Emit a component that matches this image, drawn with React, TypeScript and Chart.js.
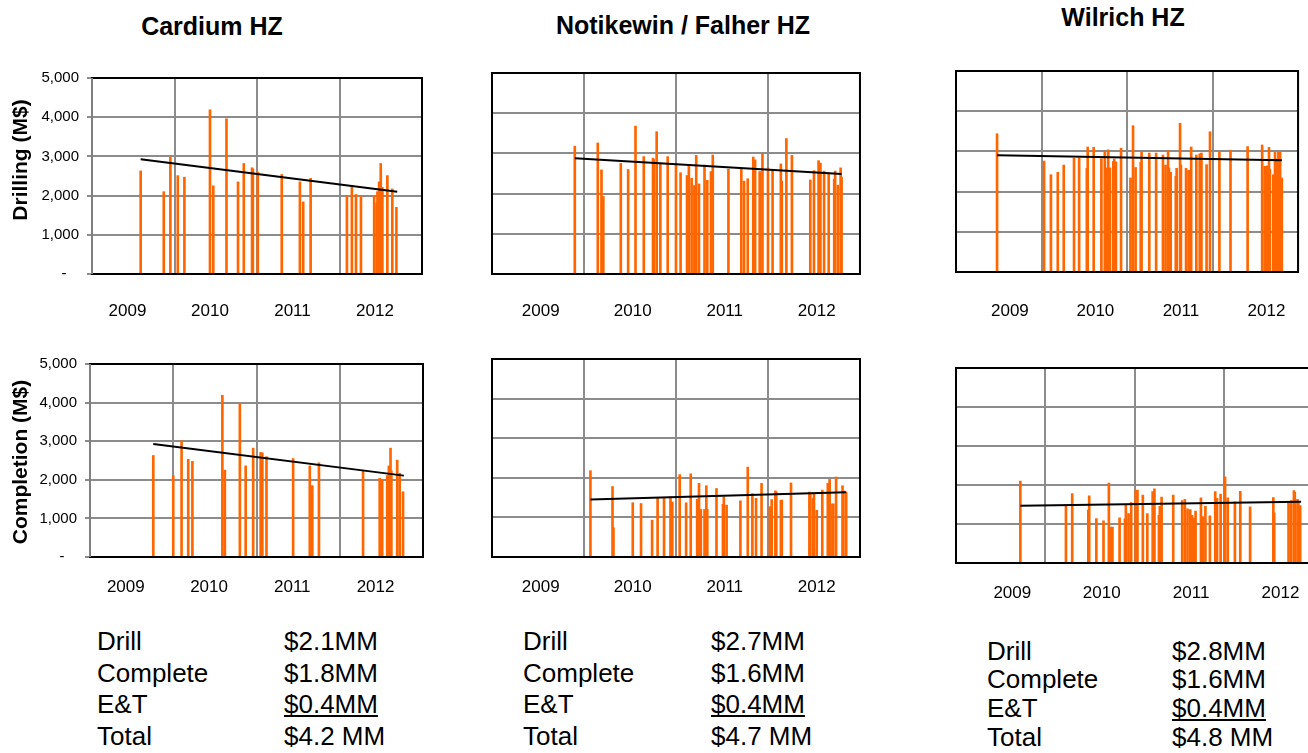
import React, { useEffect, useRef } from 'react';
import { Chart, registerables } from 'chart.js';
Chart.register(...registerables);

// ---------- data ----------
const yearLabels = ['2009', '2010', '2011', '2012'];
const yTickValues = [0, 1000, 2000, 3000, 4000, 5000];
const panelTitles = ['Cardium HZ', 'Notikewin / Falher HZ', 'Wilrich HZ'];
const rowTitles = ['Drilling (M$)', 'Completion (M$)'];

const cardiumDrillDates = [2009.59, 2009.87, 2009.95, 2010.04, 2010.12, 2010.43, 2010.47, 2010.63, 2010.77, 2010.84, 2010.94, 2010.95, 2011.01, 2011.30, 2011.52, 2011.56, 2011.65, 2012.09, 2012.15, 2012.20, 2012.26, 2012.42, 2012.45, 2012.46, 2012.48, 2012.50, 2012.52, 2012.58, 2012.64, 2012.69];
const cardiumDrillCost = [2630, 2100, 2990, 2510, 2470, 4190, 2250, 3960, 2350, 2820, 2710, 2680, 2600, 2540, 2350, 1840, 2440, 1980, 2220, 2030, 1990, 1990, 1810, 2100, 2350, 2820, 2210, 2510, 2170, 1700];
const cardiumDrillTrendDates = [2009.59, 2012.70];
const cardiumDrillTrendCost = [2926, 2097];

const cardiumCompDates = [2009.76, 2010.00, 2010.10, 2010.18, 2010.23, 2010.59, 2010.62, 2010.80, 2010.87, 2010.96, 2011.05, 2011.07, 2011.12, 2011.44, 2011.64, 2011.67, 2011.75, 2012.28, 2012.48, 2012.51, 2012.57, 2012.59, 2012.61, 2012.62, 2012.69, 2012.72, 2012.76];
const cardiumCompCost = [2630, 2110, 3010, 2530, 2480, 4190, 2250, 3960, 2360, 2820, 2710, 2700, 2600, 2550, 2360, 1850, 2440, 2230, 2040, 2010, 2110, 2360, 2820, 2230, 2510, 2170, 1690];
const cardiumCompTrendDates = [2009.76, 2012.77];
const cardiumCompTrendCost = [2925, 2108];

const notikewinDrillDates = [2009.90, 2010.15, 2010.19, 2010.21, 2010.40, 2010.48, 2010.56, 2010.65, 2010.75, 2010.76, 2010.79, 2010.83, 2010.91, 2011.00, 2011.05, 2011.12, 2011.14, 2011.17, 2011.20, 2011.22, 2011.25, 2011.31, 2011.34, 2011.38, 2011.40, 2011.57, 2011.71, 2011.74, 2011.78, 2011.84, 2011.86, 2011.91, 2011.94, 2012.00, 2012.05, 2012.14, 2012.15, 2012.20, 2012.26, 2012.46, 2012.50, 2012.55, 2012.57, 2012.61, 2012.66, 2012.72, 2012.73, 2012.76, 2012.79, 2012.80];
const notikewinDrillCost = [3180, 3260, 2590, 1930, 2750, 2600, 3680, 2920, 2880, 2850, 3540, 2760, 2920, 2740, 2520, 2450, 2690, 2380, 2200, 2950, 2240, 2710, 2330, 2550, 2960, 2610, 2610, 2310, 2370, 2910, 2840, 2550, 3000, 2640, 2600, 2740, 2310, 3370, 2950, 2340, 2570, 2820, 2760, 2560, 2530, 2360, 2560, 2210, 2640, 2410];
const notikewinDrillTrendDates = [2009.90, 2012.80];
const notikewinDrillTrendCost = [2877, 2487];

const notikewinCompDates = [2010.07, 2010.31, 2010.32, 2010.53, 2010.62, 2010.74, 2010.80, 2010.87, 2010.94, 2010.96, 2011.04, 2011.11, 2011.16, 2011.23, 2011.25, 2011.27, 2011.31, 2011.33, 2011.34, 2011.44, 2011.51, 2011.52, 2011.55, 2011.70, 2011.78, 2011.83, 2011.87, 2011.93, 2012.02, 2012.04, 2012.08, 2012.09, 2012.14, 2012.15, 2012.25, 2012.45, 2012.46, 2012.49, 2012.50, 2012.53, 2012.59, 2012.65, 2012.67, 2012.70, 2012.71, 2012.74, 2012.81, 2012.82, 2012.85];
const notikewinCompCost = [2180, 1780, 740, 1370, 1350, 930, 1480, 1480, 1520, 1390, 2080, 1370, 2100, 1460, 1860, 1200, 1200, 1800, 1200, 1730, 1330, 1520, 1310, 1420, 2270, 1600, 1480, 1860, 1270, 1450, 1670, 1640, 1430, 1440, 1870, 1640, 1610, 1480, 1590, 1180, 1690, 1860, 1960, 1340, 1340, 2020, 1800, 1670, 1640];
const notikewinCompTrendDates = [2010.07, 2012.85];
const notikewinCompTrendCost = [1450, 1635];

const wilrichDrillDates = [2009.48, 2010.03, 2010.11, 2010.19, 2010.26, 2010.38, 2010.44, 2010.53, 2010.54, 2010.61, 2010.70, 2010.74, 2010.76, 2010.78, 2010.80, 2010.84, 2010.85, 2010.87, 2010.93, 2011.04, 2011.07, 2011.10, 2011.16, 2011.17, 2011.26, 2011.34, 2011.42, 2011.45, 2011.48, 2011.49, 2011.51, 2011.57, 2011.58, 2011.62, 2011.63, 2011.69, 2011.72, 2011.73, 2011.75, 2011.81, 2011.85, 2011.87, 2011.93, 2011.97, 2012.08, 2012.21, 2012.41, 2012.58, 2012.61, 2012.64, 2012.66, 2012.67, 2012.71, 2012.73, 2012.75, 2012.77, 2012.79, 2012.81];
const wilrichDrillCost = [3440, 2760, 2420, 2480, 2660, 2830, 2840, 2580, 3110, 3100, 2820, 3010, 2590, 3040, 2590, 2750, 2810, 2740, 3080, 2340, 3640, 2600, 2730, 2990, 2960, 2960, 2910, 2660, 3020, 2590, 2480, 2380, 2580, 3700, 2660, 2580, 2530, 2530, 3110, 2910, 2940, 2960, 2670, 3490, 2980, 3030, 3120, 3160, 2630, 2640, 3100, 2560, 2420, 2990, 2810, 2980, 2980, 2340];
const wilrichDrillTrendDates = [2009.48, 2012.81];
const wilrichDrillTrendCost = [2906, 2782];

const wilrichCompDates = [2009.72, 2010.23, 2010.30, 2010.48, 2010.49, 2010.57, 2010.65, 2010.71, 2010.73, 2010.75, 2010.83, 2010.89, 2010.90, 2010.93, 2010.96, 2011.01, 2011.03, 2011.09, 2011.14, 2011.20, 2011.22, 2011.27, 2011.28, 2011.30, 2011.43, 2011.53, 2011.56, 2011.59, 2011.62, 2011.64, 2011.66, 2011.68, 2011.74, 2011.76, 2011.79, 2011.84, 2011.90, 2011.92, 2011.96, 2012.01, 2012.04, 2012.12, 2012.18, 2012.29, 2012.55, 2012.56, 2012.72, 2012.75, 2012.78, 2012.79, 2012.82, 2012.83, 2012.85];
const wilrichCompCost = [2100, 1450, 1780, 1360, 1720, 1140, 1080, 2050, 920, 920, 1160, 1130, 1490, 1270, 1550, 1860, 1870, 1740, 1270, 1830, 1900, 1220, 1450, 1690, 1740, 1600, 1630, 1390, 1370, 1220, 1150, 1330, 1670, 1190, 1450, 1210, 1830, 1660, 1770, 2210, 1670, 1570, 1840, 1440, 1680, 1280, 1580, 1600, 1860, 1810, 1630, 1540, 1470];
const wilrichCompTrendDates = [2009.72, 2012.86];
const wilrichCompTrendCost = [1471, 1573];

const costLabels = ['Drill', 'Complete', 'E&T', 'Total'];
const cardiumCosts = ['$2.1MM', '$1.8MM', '$0.4MM', '$4.2 MM'];
const notikewinCosts = ['$2.7MM', '$1.6MM', '$0.4MM', '$4.7 MM'];
const wilrichCosts = ['$2.8MM', '$1.6MM', '$0.4MM', '$4.8 MM'];

// ---------- layout / style ----------
const FONT = "'Liberation Sans', Arial, sans-serif";
const ORANGE = '#FF6600';
const GRID = '#8c8c8c';
const X_MIN = 2009;
const X_MAX = 2013;

type PanelCfg = {
  dates: number[]; cost: number[]; trendDates: number[]; trendCost: number[];
  left: number; top: number; right: number; bottom: number;
  yTicks: boolean; labelOffset: number; labelDrop: number;
};

const panels: PanelCfg[] = [
  { dates: cardiumDrillDates, cost: cardiumDrillCost, trendDates: cardiumDrillTrendDates, trendCost: cardiumDrillTrendCost,
    left: 92, top: 73, right: 422, bottom: 274, yTicks: true, labelOffset: 0.43, labelDrop: 37 },
  { dates: notikewinDrillDates, cost: notikewinDrillCost, trendDates: notikewinDrillTrendDates, trendCost: notikewinDrillTrendCost,
    left: 492, top: 73, right: 860, bottom: 274, yTicks: false, labelOffset: 0.53, labelDrop: 37 },
  { dates: wilrichDrillDates, cost: wilrichDrillCost, trendDates: wilrichDrillTrendDates, trendCost: wilrichDrillTrendCost,
    left: 956, top: 71, right: 1313, bottom: 272, yTicks: false, labelOffset: 0.63, labelDrop: 39 },
  { dates: cardiumCompDates, cost: cardiumCompCost, trendDates: cardiumCompTrendDates, trendCost: cardiumCompTrendCost,
    left: 90, top: 359, right: 423, bottom: 557, yTicks: true, labelOffset: 0.43, labelDrop: 30 },
  { dates: notikewinCompDates, cost: notikewinCompCost, trendDates: notikewinCompTrendDates, trendCost: notikewinCompTrendCost,
    left: 492, top: 359, right: 860, bottom: 557, yTicks: false, labelOffset: 0.53, labelDrop: 30 },
  { dates: wilrichCompDates, cost: wilrichCompCost, trendDates: wilrichCompTrendDates, trendCost: wilrichCompTrendCost,
    left: 956, top: 368, right: 1317, bottom: 563, yTicks: false, labelOffset: 0.63, labelDrop: 30 },
];

const PAD_TOP = 12;
const PAD_RIGHT = 3;
const X_AXIS_H = 54;

function Panel({ cfg }: { cfg: PanelCfg }) {
  const ref = useRef<HTMLCanvasElement | null>(null);
  const yAxisW = cfg.yTicks ? cfg.left : 3;
  const canvasLeft = cfg.left - yAxisW;
  const canvasTop = cfg.top - PAD_TOP;
  const width = yAxisW + (cfg.right - cfg.left) + PAD_RIGHT;
  const height = PAD_TOP + (cfg.bottom - cfg.top) + X_AXIS_H;

  useEffect(() => {
    if (!ref.current) return;
    const yearFont = { family: FONT, size: 17 };
    const framePlugin = {
      id: 'frame',
      afterDraw(chart: any) {
        const { ctx, chartArea: a } = chart;
        ctx.save();
        ctx.lineWidth = 2;
        ctx.strokeStyle = '#000';
        ctx.beginPath();
        ctx.moveTo(a.left - 1, a.top); ctx.lineTo(a.right + 1, a.top);
        ctx.moveTo(a.left - 1, a.bottom); ctx.lineTo(a.right + 1, a.bottom);
        ctx.moveTo(a.right, a.top); ctx.lineTo(a.right, a.bottom);
        ctx.stroke();
        ctx.strokeStyle = cfg.yTicks ? '#808080' : '#000';
        ctx.beginPath();
        ctx.moveTo(a.left, a.top); ctx.lineTo(a.left, a.bottom);
        ctx.stroke();
        ctx.restore();
      },
    };
    const chart = new Chart(ref.current, {
      type: 'bar',
      data: {
        datasets: [
          {
            type: 'line',
            data: cfg.trendDates.map((d, i) => ({ x: d, y: cfg.trendCost[i] })),
            borderColor: '#000',
            borderWidth: 2,
            pointRadius: 0,
            xAxisID: 'x',
            yAxisID: 'y',
            order: 1,
          } as any,
          {
            type: 'bar',
            data: cfg.dates.map((d, i) => ({ x: d, y: cfg.cost[i] })),
            backgroundColor: ORANGE,
            borderWidth: 0,
            barThickness: 2,
            xAxisID: 'x',
            yAxisID: 'y',
            order: 2,
          } as any,
        ],
      },
      options: {
        animation: false,
        responsive: false,
        events: [],
        layout: { padding: { top: PAD_TOP, right: PAD_RIGHT, left: 0, bottom: 0 } },
        plugins: { legend: { display: false }, tooltip: { enabled: false } },
        scales: {
          x: {
            type: 'linear',
            position: 'bottom',
            min: X_MIN,
            max: X_MAX,
            offset: false,
            ticks: { display: false, stepSize: 1 },
            grid: { color: GRID, lineWidth: 2, drawTicks: false, offset: false },
            border: { display: false },
            afterFit: (s: any) => { s.height = 0; },
          },
          xl: {
            type: 'linear',
            position: 'bottom',
            min: X_MIN,
            max: X_MAX,
            offset: false,
            grid: { display: false, drawTicks: false, offset: false },
            border: { display: false },
            ticks: {
              autoSkip: false,
              maxRotation: 0,
              color: '#000',
              font: yearFont,
              padding: cfg.labelDrop - 10,
              callback: (_v: any, i: number) => yearLabels[i],
            },
            afterBuildTicks: (s: any) => {
              s.ticks = yearLabels.map((_, i) => ({ value: X_MIN + i + cfg.labelOffset }));
            },
            afterFit: (s: any) => { s.height = X_AXIS_H; },
          },
          y: {
            type: 'linear',
            position: 'left',
            min: 0,
            max: 5000,
            afterBuildTicks: (s: any) => {
              s.ticks = yTickValues.map((v) => ({ value: v }));
            },
            ticks: {
              display: cfg.yTicks,
              color: '#000',
              font: { family: FONT, size: 15 },
              padding: 8,
              callback: (v: any) => (v === 0 ? '-   ' : Number(v).toLocaleString('en-US')),
            },
            grid: { color: GRID, lineWidth: 2, drawTicks: cfg.yTicks, tickLength: 5, tickColor: GRID },
            border: { display: false },
            afterFit: (s: any) => { s.width = yAxisW; },
          },
        } as any,
      },
      plugins: [framePlugin],
    });
    return () => chart.destroy();
  }, []);

  return (
    <canvas
      ref={ref}
      width={width}
      height={height}
      style={{ position: 'absolute', left: canvasLeft, top: canvasTop, width, height }}
    />
  );
}

function CostBlock({ x, valueX, rows, lineH, values }: { x: number; valueX: number; rows: number[]; lineH: number; values: string[] }) {
  return (
    <>
      {costLabels.map((lab, i) => (
        <React.Fragment key={lab}>
          <div style={{ position: 'absolute', left: x, top: rows[i] - lineH / 2, lineHeight: lineH + 'px', fontSize: 26, fontFamily: FONT, whiteSpace: 'nowrap' }}>{lab}</div>
          <div style={{ position: 'absolute', left: valueX, top: rows[i] - lineH / 2, lineHeight: lineH + 'px', fontSize: 26, fontFamily: FONT, whiteSpace: 'nowrap', textDecoration: i === 2 ? 'underline' : 'none' }}>{values[i]}</div>
        </React.Fragment>
      ))}
    </>
  );
}

export default function App() {
  const titleStyle = (cx: number, cy: number): React.CSSProperties => ({
    position: 'absolute', left: cx, top: cy, transform: 'translate(-50%, -50%)',
    fontFamily: FONT, fontWeight: 'bold', fontSize: 25, whiteSpace: 'nowrap', color: '#000',
  });
  const axisTitleStyle = (cx: number, cy: number): React.CSSProperties => ({
    position: 'absolute', left: cx, top: cy, transform: 'translate(-50%, -50%) rotate(-90deg)',
    fontFamily: FONT, fontWeight: 'bold', fontSize: 21, whiteSpace: 'nowrap', color: '#000',
  });
  return (
    <div style={{ position: 'fixed', left: 0, top: 0, width: 1308, height: 753, overflow: 'hidden', background: '#fff' }}>
      <div style={titleStyle(212, 26)}>{panelTitles[0]}</div>
      <div style={titleStyle(683, 25)}>{panelTitles[1]}</div>
      <div style={titleStyle(1123, 17)}>{panelTitles[2]}</div>
      {panels.map((p, i) => <Panel key={i} cfg={p} />)}
      <div style={axisTitleStyle(20, 160)}>{rowTitles[0]}</div>
      <div style={axisTitleStyle(20, 462)}>{rowTitles[1]}</div>
      <CostBlock x={97} valueX={284} rows={[641, 673, 704, 736]} lineH={30} values={cardiumCosts} />
      <CostBlock x={523} valueX={711} rows={[641, 673, 704, 736]} lineH={30} values={notikewinCosts} />
      <CostBlock x={987} valueX={1172} rows={[651, 679, 708, 737]} lineH={30} values={wilrichCosts} />
    </div>
  );
}
